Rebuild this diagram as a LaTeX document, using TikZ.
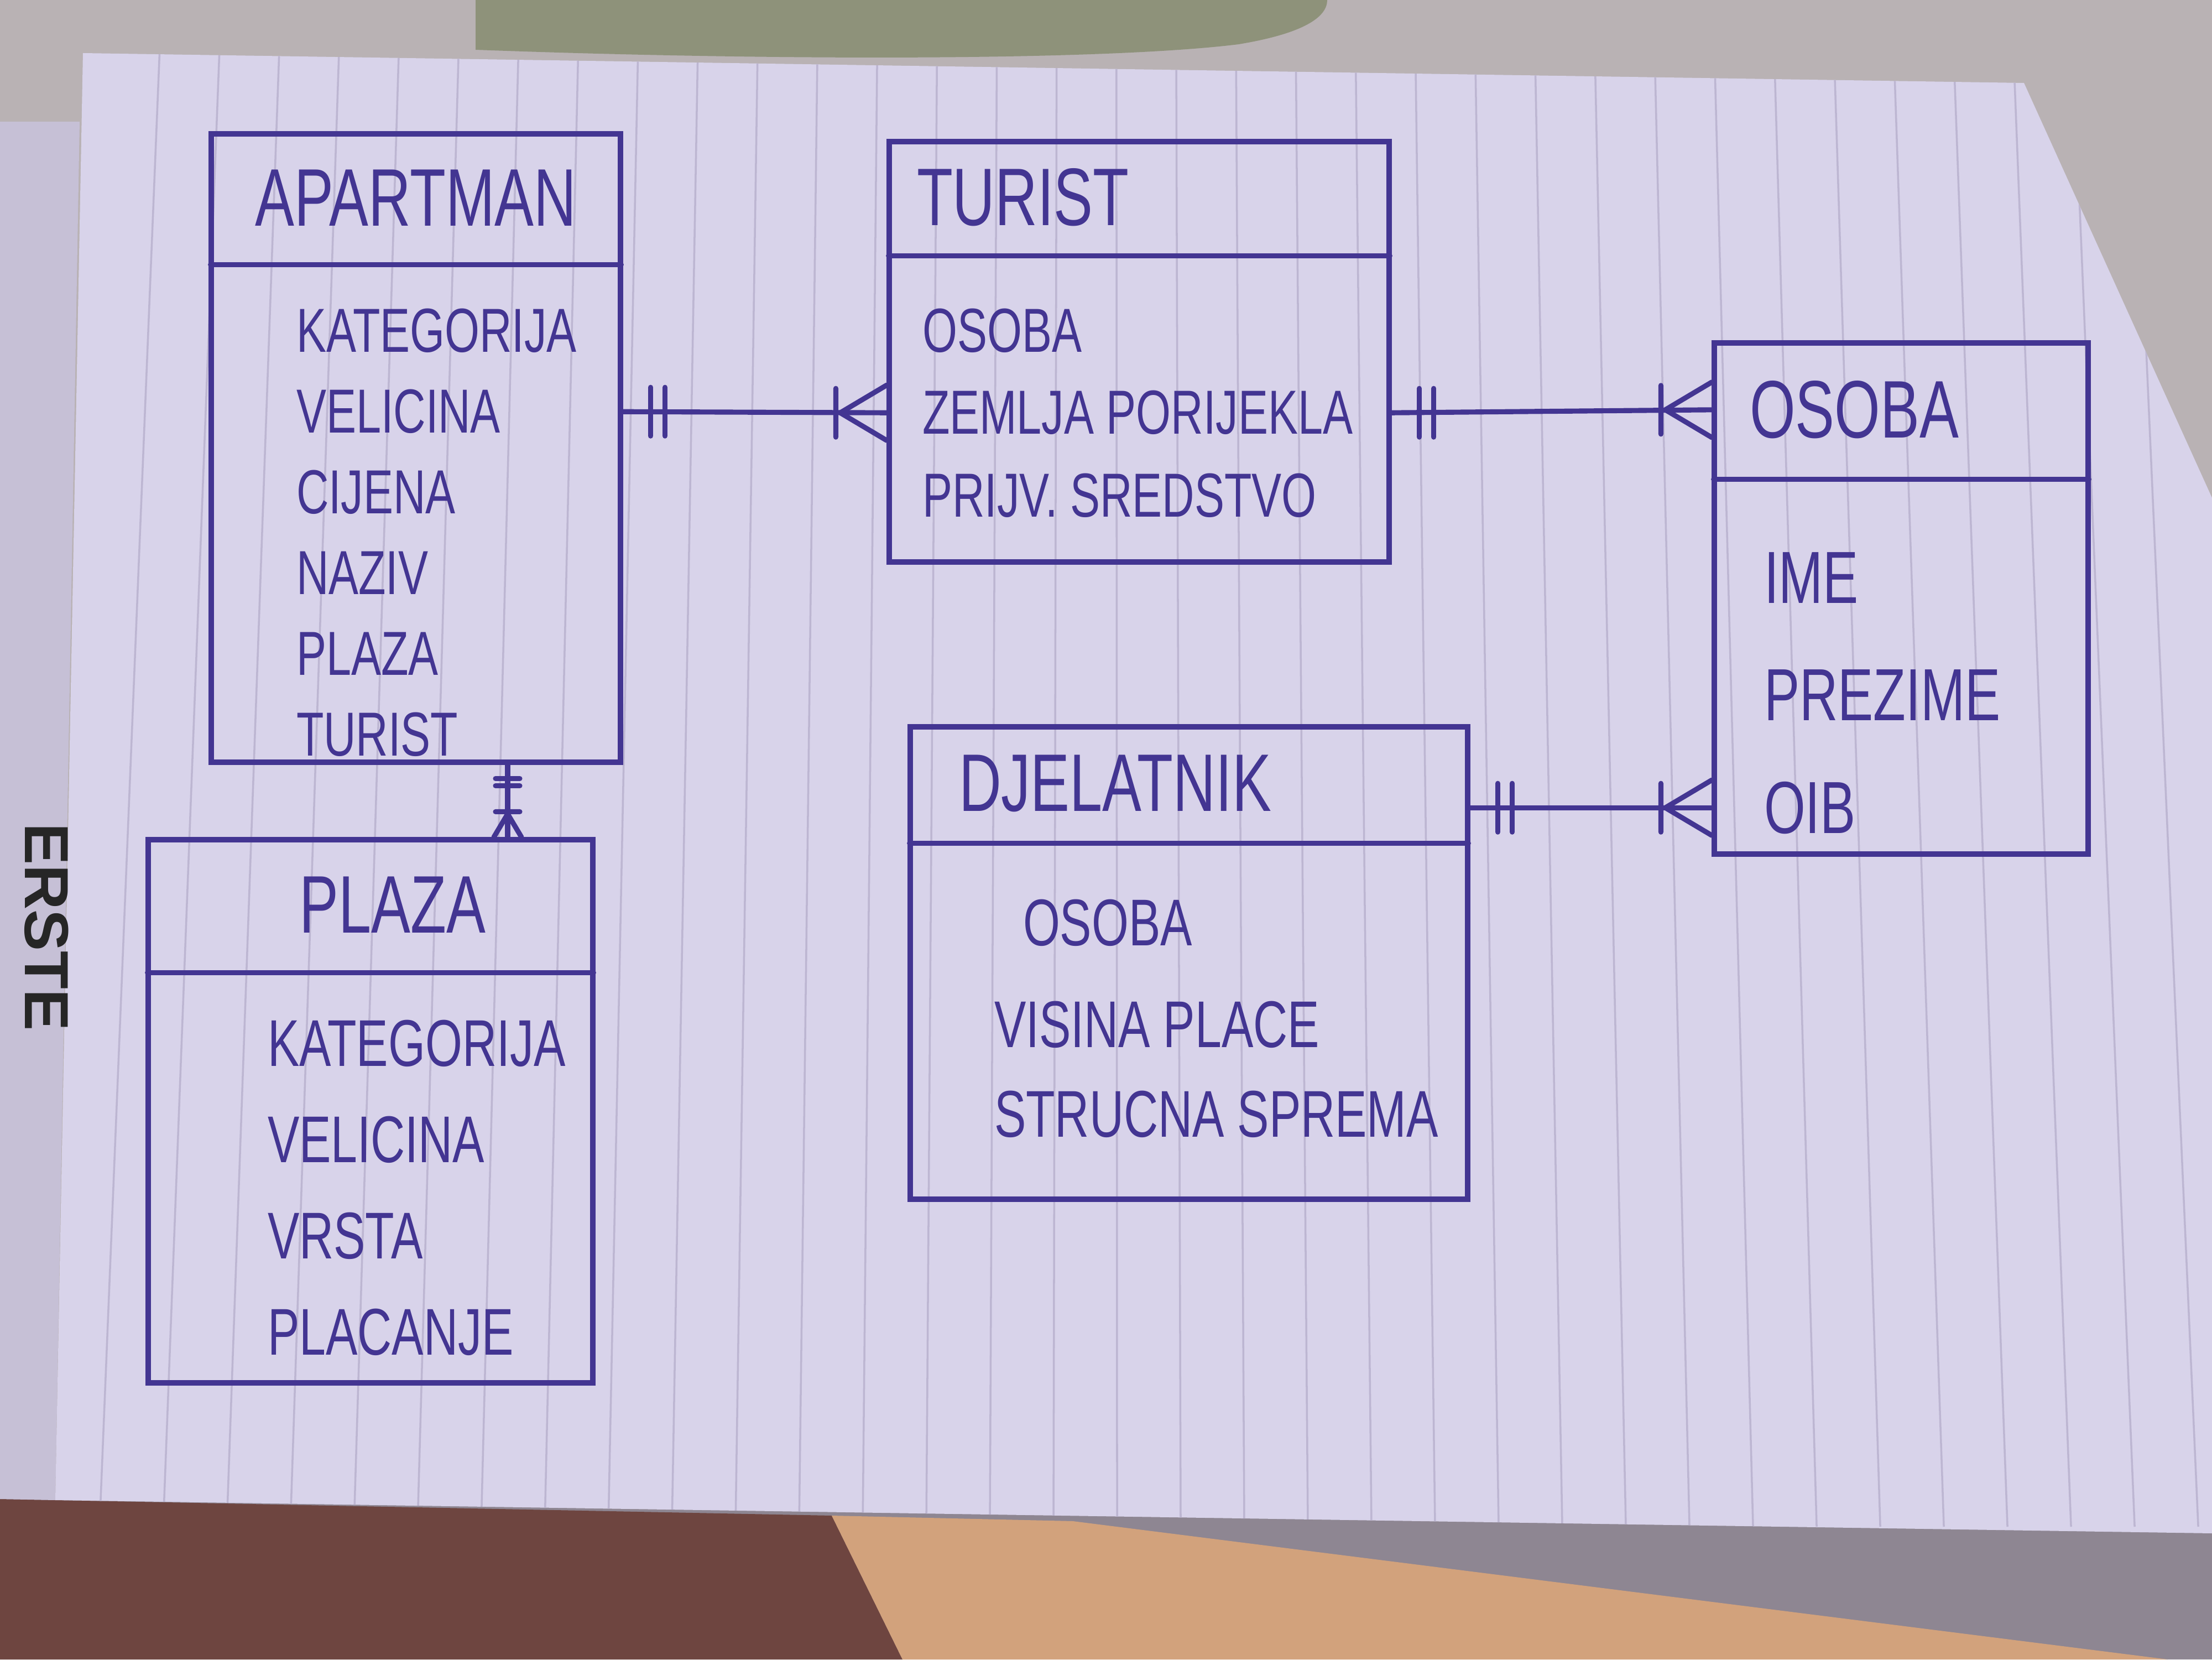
\documentclass[tikz,border=0pt]{standalone}
\usepackage{fontspec}
\setmainfont{Liberation Sans}[FakeStretch=0.72]
\newfontfamily\logofont{Liberation Sans}
\usetikzlibrary{positioning, calc}
\definecolor{InkViolet}{HTML}{433592}
\definecolor{PaperLav}{HTML}{D8D3EA}
\definecolor{RuleLav}{HTML}{BDB6D2}
\definecolor{DeskGray}{HTML}{B9B2B4}
\definecolor{CoverLav}{HTML}{C6C0D6}
\definecolor{MatGreen}{HTML}{8E927A}
\definecolor{SkinDark}{HTML}{6E4540}
\definecolor{TableTan}{HTML}{D2A27C}
\definecolor{ShadowGray}{HTML}{8E8692}

\begin{document}
\begin{tikzpicture}[
  entity/.style={rectangle, draw=InkViolet, line width=1.3pt, inner sep=0pt},
  head/.style={rectangle, inner sep=0pt},
  title/.style={inner sep=0pt, text=InkViolet, font=\fontsize{21}{25}\selectfont},
  attr/.style={inner sep=0pt, anchor=west, text=InkViolet, font=\fontsize{16}{19}\selectfont},
  bigattr/.style={attr, font=\fontsize{19}{23}\selectfont},
  conn/.style={draw=InkViolet, line width=1.3pt, line cap=round},
  rule/.style={draw=RuleLav, line width=0.5pt},
  oneend/.pic={\draw[conn] (0.25,-0.22) -- (0.25,0.22) (0.38,-0.22) -- (0.38,0.22);},
  manyend/.pic={\draw[conn] (0,0.25) -- (0.42,0) -- (0,-0.25) (0.46,-0.22) -- (0.46,0.22);}
]
\useasboundingbox (0,0) rectangle (20,15);

% desk, hand and notebook page
\fill[DeskGray] (0,0) rectangle (20,15);
\fill[MatGreen] (4.3,15) -- (4.3,14.55) .. controls (7,14.45) and (10,14.45) .. (11.2,14.6) .. controls (11.8,14.7) and (12,14.85) .. (12,15) -- cycle;
\fill[ShadowGray] (0,0) rectangle (20,1.5);
\fill[SkinDark] (0,0) -- (0,1.45) -- (7.52,1.3) -- (8.16,0) -- cycle;
\fill[TableTan] (7.52,1.3) -- (9.7,1.25) -- (19.6,0) -- (8.16,0) -- cycle;
\fill[CoverLav] (0,1.45) -- (0.5,1.44) -- (0.72,13.9) -- (0,13.9) -- cycle;
\fill[PaperLav] (0.75,14.52) -- (18.3,14.25) -- (20,10.5) -- (20,1.14) -- (0.5,1.44) -- cycle;
\begin{scope}
  \clip (0.75,14.52) -- (18.3,14.25) -- (20,10.5) -- (20,1.14) -- (0.5,1.44) -- cycle;
  \foreach \b in {0.9,1.475,...,20} \draw[rule] (\b,1.2) -- ({10+(\b-10)*0.94},14.6);
\end{scope}
\node[rotate=-90, inner sep=0pt, text=black!85, font=\logofont\fontsize{16}{19}\selectfont\bfseries] (erste) at (0.42,6.62) {ERSTE};

% APARTMAN
\node[entity, minimum width=3.7cm, minimum height=5.68cm] (apartman) at (3.76,10.95) {};
\node[head, minimum width=3.7cm, minimum height=1.19cm, below=0pt of apartman.north] (ap-head) {};
\draw[conn] (ap-head.south west) -- (ap-head.south east);
\node[title] (ap-title) at (ap-head) {APARTMAN};
\node[below=0.6cm of ap-head.south west, attr, xshift=0.77cm] (ap1) {KATEGORIJA};
\node[below=0.73cm of ap1.west, attr] (ap2) {VELICINA};
\node[below=0.73cm of ap2.west, attr] (ap3) {CIJENA};
\node[below=0.73cm of ap3.west, attr] (ap4) {NAZIV};
\node[below=0.73cm of ap4.west, attr] (ap5) {PLAZA};
\node[below=0.73cm of ap5.west, attr] (ap6) {TURIST};

% TURIST
\node[entity, minimum width=4.52cm, minimum height=3.8cm] (turist) at (10.30,11.82) {};
\node[head, minimum width=4.52cm, minimum height=1.04cm, below=0pt of turist.north] (tu-head) {};
\draw[conn] (tu-head.south west) -- (tu-head.south east);
\node[title, right=0.25cm of tu-head.west] (tu-title) {TURIST};
\node[below=0.68cm of tu-head.south west, attr, xshift=0.3cm] (tu1) {OSOBA};
\node[below=0.74cm of tu1.west, attr] (tu2) {ZEMLJA PORIJEKLA};
\node[below=0.75cm of tu2.west, attr] (tu3) {PRIJV. SREDSTVO};

% OSOBA
\node[entity, minimum width=3.38cm, minimum height=4.62cm] (osoba) at (17.19,9.59) {};
\node[head, minimum width=3.38cm, minimum height=1.24cm, below=0pt of osoba.north] (os-head) {};
\draw[conn] (os-head.south west) -- (os-head.south east);
\node[title, right=0.32cm of os-head.west] (os-title) {OSOBA};
\node[below=0.89cm of os-head.south west, bigattr, xshift=0.45cm] (os1) {IME};
\node[below=1.06cm of os1.west, bigattr] (os2) {PREZIME};
\node[below=1.02cm of os2.west, bigattr] (os3) {OIB};

% DJELATNIK
\node[entity, minimum width=5.04cm, minimum height=4.27cm] (djelatnik) at (10.75,6.295) {};
\node[head, minimum width=5.04cm, minimum height=1.06cm, below=0pt of djelatnik.north] (dj-head) {};
\draw[conn] (dj-head.south west) -- (dj-head.south east);
\node[title, right=0.44cm of dj-head.west] (dj-title) {DJELATNIK};
\node[below=0.72cm of dj-head.south west, attr, font=\fontsize{17}{20}\selectfont, xshift=1.02cm] (dj1) {OSOBA};
\node[below=0.92cm of dj1.west, attr, font=\fontsize{17}{20}\selectfont, xshift=-0.26cm] (dj2) {VISINA PLACE};
\node[below=0.81cm of dj2.west, attr, font=\fontsize{17}{20}\selectfont] (dj3) {STRUCNA SPREMA};

% PLAZA
\node[entity, minimum width=4.02cm, minimum height=4.91cm] (plaza) at (3.35,4.955) {};
\node[head, minimum width=4.02cm, minimum height=1.21cm, below=0pt of plaza.north] (pl-head) {};
\draw[conn] (pl-head.south west) -- (pl-head.south east);
\node[title] (pl-title) at ([xshift=0.2cm]pl-head.center) {PLAZA};
\node[below=0.64cm of pl-head.south west, attr, font=\fontsize{17}{20}\selectfont, xshift=1.08cm] (pl1) {KATEGORIJA};
\node[below=0.87cm of pl1.west, attr, font=\fontsize{17}{20}\selectfont] (pl2) {VELICINA};
\node[below=0.87cm of pl2.west, attr, font=\fontsize{17}{20}\selectfont] (pl3) {VRSTA};
\node[below=0.87cm of pl3.west, attr, font=\fontsize{17}{20}\selectfont] (pl4) {PLACANJE};

% relationships
\draw[conn] (apartman.east |- ap2) -- (turist.west |- tu2);
\pic at (apartman.east |- ap2) {oneend};
\pic[rotate=180] at (turist.west |- tu2) {manyend};

\draw[conn] (turist.east |- tu2) -- (osoba.west |- os-title);
\pic at (turist.east |- tu2) {oneend};
\pic[rotate=180] at (osoba.west |- os-title) {manyend};

\draw[conn] (djelatnik.east |- os3) -- (osoba.west |- os3);
\pic at (djelatnik.east |- os3) {oneend};
\pic[rotate=180] at (osoba.west |- os3) {manyend};

\coordinate (ap-pl) at ([xshift=0.83cm]apartman.south);
\draw[conn] (ap-pl) -- (ap-pl |- plaza.north);
\pic[rotate=-90, scale=0.5] at (ap-pl) {oneend};
\pic[rotate=90, scale=0.5] at (ap-pl |- plaza.north) {manyend};
\end{tikzpicture}
\end{document}
